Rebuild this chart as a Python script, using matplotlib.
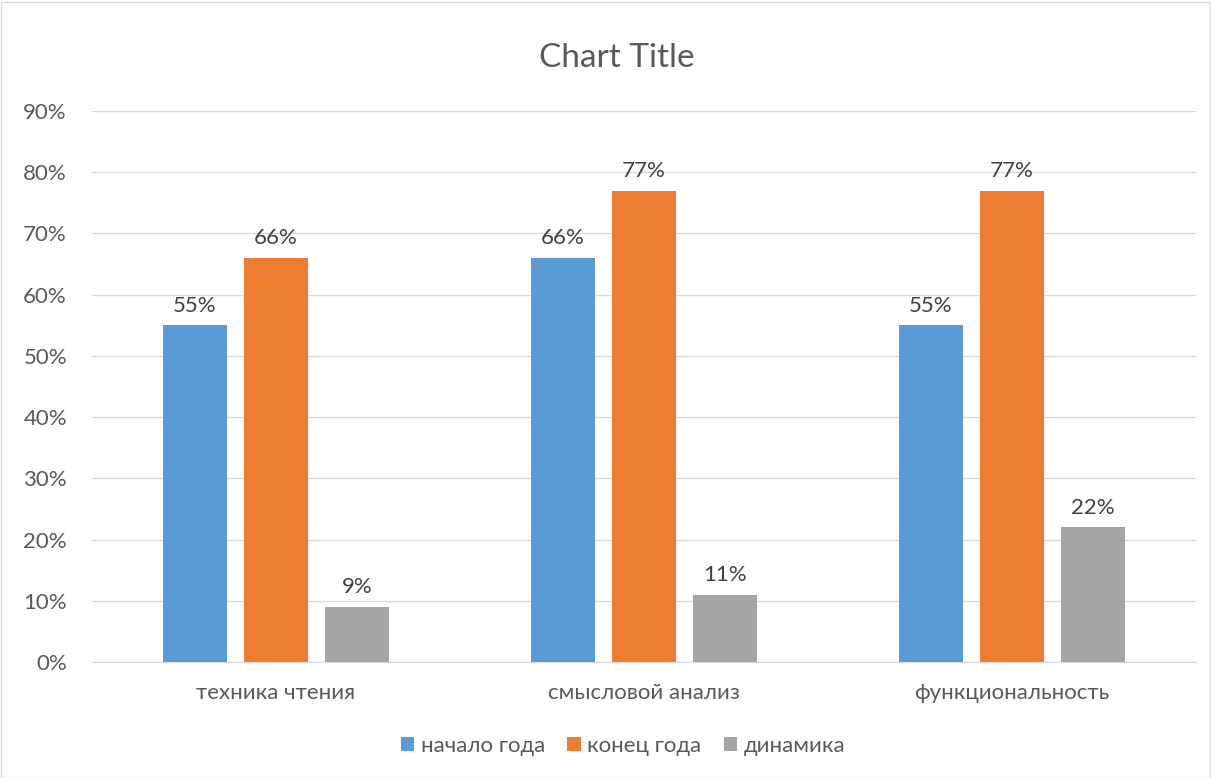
import numpy as np
import matplotlib.pyplot as plt
from matplotlib.patches import Rectangle
from matplotlib.ticker import PercentFormatter

####################################################
### Data

categories = ["техника чтения", "смысловой анализ", "функциональность"]
series_names = ["начало года", "конец года", "динамика"]
start_year = [0.55, 0.66, 0.55]
end_year = [0.66, 0.77, 0.77]
dynamics = [0.09, 0.11, 0.22]
colors = ["#5B9BD5", "#ED7D31", "#A5A5A5"]

####################################################
### Plot

plt.rcParams['font.family'] = ['Lato', 'DejaVu Sans']
text_col = "#595959"

fig = plt.figure(figsize=(12.11, 7.78), dpi=100)
fig.patches.append(Rectangle((0.5/1211, 0.5/778), 1 - 2/1211, 1 - 2/778,
                             transform=fig.transFigure, fill=False,
                             edgecolor="#D9D9D9", linewidth=1))
ax = fig.add_axes([92/1211, 1 - 662/778, (1196 - 92)/1211, (662 - 111)/778])

x = np.arange(len(categories))
width = 64/368
step = 81/368
all_series = [start_year, end_year, dynamics]
for i, vals in enumerate(all_series):
    pos = x + (i - 1) * step
    bars = ax.bar(pos, vals, width=width, color=colors[i], label=series_names[i], zorder=3)
    for b, v in zip(bars, vals):
        ax.annotate('%d%%' % round(v * 100), (b.get_x() + b.get_width()/2, v),
                    xytext=(0, 7), textcoords='offset points', ha='center', va='bottom',
                    fontsize=16, color="#404040")

ax.set_xlim(-0.5, 2.5)
ax.set_ylim(0, 0.9)
ax.set_yticks(np.arange(0, 0.91, 0.1))
ax.yaxis.set_major_formatter(PercentFormatter(1.0, decimals=0))
ax.set_xticks(x)
ax.set_xticklabels(categories)
ax.grid(axis='y', color="#D9D9D9", linewidth=1, zorder=0)
for s in ['top', 'right', 'left']:
    ax.spines[s].set_visible(False)
ax.spines['bottom'].set_color("#D9D9D9")
ax.tick_params(axis='both', length=0, labelsize=16, colors=text_col)
ax.tick_params(axis='x', pad=15)
ax.tick_params(axis='y', pad=18)

fig.text(617/1211, 1 - 58/778, "Chart Title", ha='center', va='center', fontsize=24, color=text_col)

leg = fig.legend(loc='center', bbox_to_anchor=(623/1211, 1 - 746/778), ncol=3, frameon=False,
                 fontsize=16, handlelength=0.6, handleheight=0.6, handletextpad=0.3,
                 columnspacing=1.0)
for t in leg.get_texts():
    t.set_color(text_col)

fig.savefig("out.png", dpi=100)
